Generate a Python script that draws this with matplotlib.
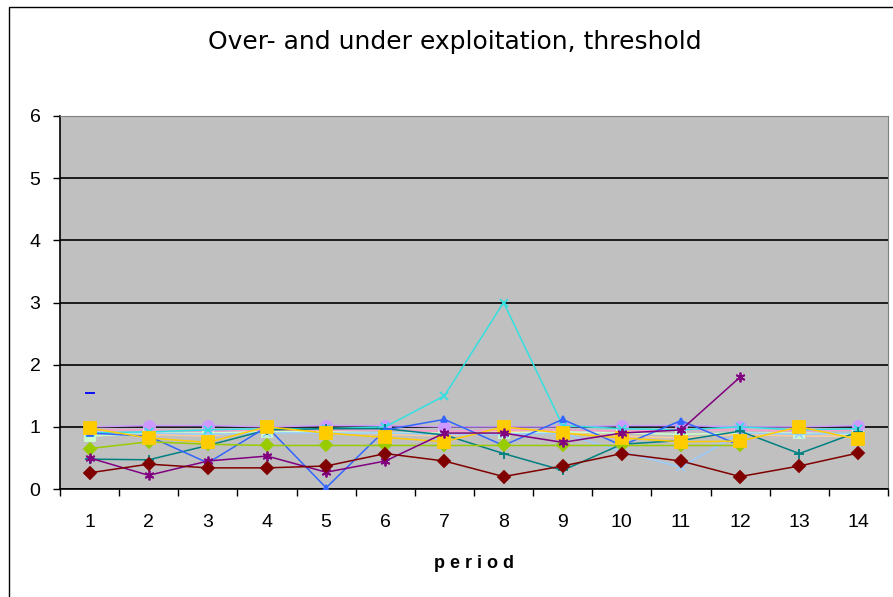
import numpy as np
import matplotlib.pyplot as plt
from matplotlib.patches import Rectangle

nan = np.nan
periods = np.arange(1, 15)

# one row per player group, values read per period
maroon = [0.26, 0.40, 0.34, 0.34, 0.37, 0.57, 0.45, 0.20, 0.37, 0.57, 0.45, 0.20, 0.37, 0.58]
purple = [0.50, 0.22, 0.45, 0.53, 0.27, 0.45, 0.90, 0.90, 0.75, 0.90, 0.95, 1.80, nan, nan]
teal = [0.48, 0.47, 0.70, 0.95, 0.97, 0.97, 0.87, 0.57, 0.30, 0.72, 0.78, 0.93, 0.57, 0.92]
lime = [0.65, 0.76, 0.72, 0.70, 0.70, 0.70, 0.70, 0.70, 0.70, 0.70, 0.70, 0.70, nan, nan]
gold = [0.98, 0.82, 0.75, 1.00, 0.90, 0.83, 0.76, 1.00, 0.90, 0.82, 0.76, 0.77, 1.00, 0.80]
lilac = [1.00, 1.02, 1.02, 1.00, 1.02, 1.02, 1.00, 1.00, 1.00, 1.02, 1.02, 1.00, 1.00, 1.02]
blue = [0.90, 0.85, 0.42, 1.00, 0.02, 0.95, 1.12, 0.70, 1.12, 0.70, 1.10, 0.70, nan, nan]
cyan = [0.90, 0.92, 0.95, 0.97, 0.97, 1.00, 1.50, 3.00, 1.02, 0.97, 0.95, 1.00, 0.95, 0.97]
sky = [0.92, 0.90, 0.88, 0.90, 0.90, 0.90, 0.88, 0.88, 0.90, 0.60, 0.35, 0.90, 0.88, 0.90]
palegreen = [0.85, 0.90, 0.90, 0.92, 0.92, 0.90, 0.90, 0.90, 0.92, 0.90, 0.88, 0.90, 0.90, 0.88]
pink = [0.95, 0.95, 0.93, 0.95, 0.95, 0.95, 0.93, 0.95, 0.95, 0.93, 0.95, 0.95, 0.93, 0.95]
peach = [0.92, 0.88, 0.85, 0.95, 0.92, 0.88, 0.85, 0.93, 0.90, 0.85, 0.82, 0.88, 0.85, 0.85]
navy = [1.55, nan, nan, nan, nan, nan, nan, nan, nan, nan, nan, nan, nan, nan]

plt.rcParams['font.family'] = ['Liberation Sans', 'DejaVu Sans']

fig = plt.figure(figsize=(8.93, 5.97), dpi=100)
ax = fig.add_axes([60 / 893, 1 - 489 / 597, 828 / 893, 373 / 597])
ax.set_facecolor('#c0c0c0')

# outer chart frame
fig.patches.append(Rectangle((9 / 893, -0.1), 2, 1.1 - 7 / 597, transform=fig.transFigure,
                             fill=False, edgecolor='black', linewidth=1.0))

star = (6, 2, 0)
series = [
    (peach, '#ffcc99', None, 0),
    (pink, '#ff99cc', None, 0),
    (palegreen, '#ccffcc', 's', 7),
    (sky, '#99ccff', 'x', 6),
    (lilac, '#cc99ff', 'o', 8),
    (cyan, '#33e0e0', 'x', 6),
    (teal, '#008080', '+', 7),
    (blue, '#3366ff', '^', 5),
    (lime, '#99cc00', 'D', 6),
    (gold, '#ffcc00', 's', 8),
    (purple, '#800080', star, 7),
    (maroon, '#800000', 'D', 6),
    (navy, '#0000ff', '_', 7),
]
for vals, col, mk, ms in series:
    ax.plot(periods, vals, color=col, linewidth=1.1, marker=mk, markersize=ms,
            markeredgecolor=col, markerfacecolor=col, markeredgewidth=1.3, zorder=3)

ax.set_xlim(0.5, 14.5)
ax.set_ylim(0, 6)
ax.set_yticks(range(0, 7))
ax.set_xticks(periods)
ax.set_xticks(np.arange(0.5, 15, 1), minor=True)
ax.tick_params(axis='x', which='major', length=0, pad=18, labelsize=14)
ax.tick_params(axis='x', which='minor', length=5, direction='out', width=1)
ax.tick_params(axis='y', length=5, direction='out', width=1, pad=9, labelsize=14)
ax.grid(axis='y', color='black', linewidth=1.2, zorder=1)
ax.set_axisbelow(True)
for side in ('top', 'right'):
    ax.spines[side].set_color('#808080')
for side in ('left', 'bottom'):
    ax.spines[side].set_color('black')
    ax.spines[side].set_linewidth(1.2)

ax.set_xlabel('p e r i o d', fontsize=13, fontweight='bold', labelpad=17)
fig.text(455 / 893, 1 - 42 / 597, 'Over- and under exploitation, threshold',
         ha='center', va='center', fontsize=18, family=['DejaVu Sans'])

fig.savefig('out.png', dpi=100)
